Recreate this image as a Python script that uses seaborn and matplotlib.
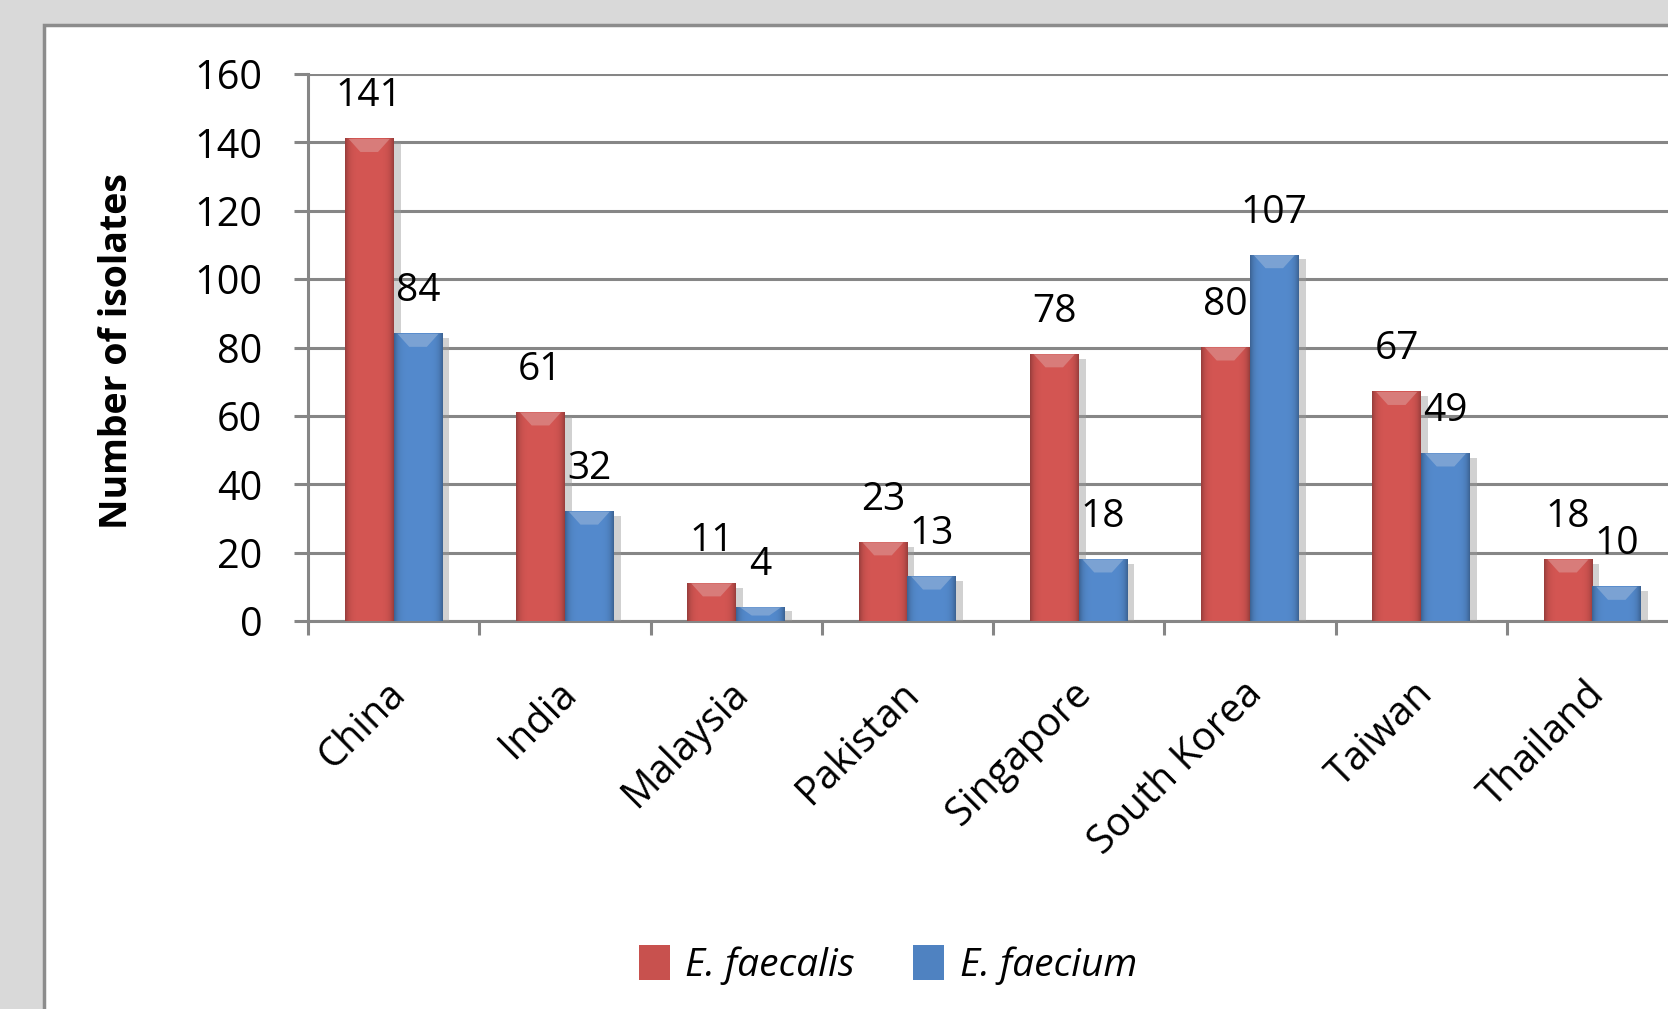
import numpy as np
import pandas as pd
import matplotlib
matplotlib.use("Agg")
import matplotlib.pyplot as plt
import matplotlib.patheffects as pe
import matplotlib.transforms as mtrans
from matplotlib.patches import Rectangle, Polygon
from matplotlib.colors import to_rgb
import seaborn as sns

# ---- data ----
countries = ["China", "India", "Malaysia", "Pakistan", "Singapore",
             "South Korea", "Taiwan", "Thailand"]
faecalis = [141, 61, 11, 23, 78, 80, 67, 18]
faecium = [84, 32, 4, 13, 18, 107, 49, 10]
series_names = ["E. faecalis", "E. faecium"]
y_ticks = [0, 20, 40, 60, 80, 100, 120, 140, 160]

df = pd.DataFrame({
    "country": countries * 2,
    "species": [series_names[0]] * len(countries) + [series_names[1]] * len(countries),
    "count": faecalis + faecium,
})

sns.set_theme(style="white")
plt.rcParams["font.family"] = ["Open Sans", "DejaVu Sans"]
plt.rcParams["text.color"] = "black"
plt.rcParams["xtick.color"] = "black"
plt.rcParams["ytick.color"] = "black"
plt.rcParams["axes.labelcolor"] = "black"

W, H = 1668, 1009
fig = plt.figure(figsize=(W / 100, H / 100), dpi=100)
fig.patch.set_facecolor("#d9d9d9")

# white chart panel with grey border (extends beyond right/bottom edges)
panel = Rectangle((44 / W, -0.05), 1.2, (H - 25) / H + 0.05, transform=fig.transFigure,
                  facecolor="white", edgecolor="#8c8c8c", linewidth=2.5, zorder=-10)
fig.patches.append(panel)

ax_left, ax_right = 308 / W, 1678 / W
ax_bottom, ax_top = (H - 621) / H, (H - 74) / H
ax = fig.add_axes([ax_left, ax_bottom, ax_right - ax_left, ax_top - ax_bottom])
ax.set_facecolor("none")

palette = {series_names[0]: "#C8514E", series_names[1]: "#4F82C1"}
sns.barplot(data=df, x="country", y="count", hue="species", order=countries,
            hue_order=series_names, palette=palette, width=0.57, ax=ax,
            saturation=1, edgecolor="none", legend=True, zorder=3)

ax.set_ylim(0, 160)
ax.set_xlim(-0.5, len(countries) - 0.5)

grid_c = "#868686"
# bevelled look: shadow + horizontal shading + lighter top cap, derived from each bar
cap_px = 13
units_per_px = 160 / (621 - 74)
prof = np.linspace(-1, 1, 64)
shade = 1.06 - 0.30 * np.abs(prof) ** 6
for cont in ax.containers:
    for p in cont.patches:
        p.set_path_effects([pe.SimplePatchShadow(offset=(5, -3), shadow_rgbFace="#9a9a9a",
                                                 alpha=0.45), pe.Normal()])
        x0, y0 = p.get_x(), p.get_y()
        w, h = p.get_width(), p.get_height()
        if h <= 0:
            continue
        base = np.array(to_rgb(p.get_facecolor()))
        img = np.clip(base[None, None, :] * shade[None, :, None], 0, 1)
        ax.imshow(img, extent=[x0, x0 + w, y0, y0 + h], aspect="auto",
                  interpolation="bilinear", zorder=3.2)
        ch = min(cap_px * units_per_px, h * 0.6)
        light = np.clip(base + (1 - base) * 0.35, 0, 1)
        cap = Polygon([[x0 + 0.08 * w, y0 + h], [x0 + 0.92 * w, y0 + h],
                       [x0 + 0.68 * w, y0 + h - ch], [x0 + 0.32 * w, y0 + h - ch]],
                      closed=True, facecolor=light, edgecolor="none", zorder=3.3, alpha=0.7)
        ax.add_patch(cap)

# value labels
for cont in ax.containers:
    ax.bar_label(cont, fmt="%d", padding=17, fontsize=28, color="black", zorder=5)

ax.set_ylim(0, 160)
ax.set_xlim(-0.5, len(countries) - 0.5)
ax.set_yticks(y_ticks)
ax.set_yticklabels([str(v) for v in y_ticks])
ax.yaxis.grid(True, color=grid_c, linewidth=2.2, zorder=0)
ax.set_axisbelow(True)

for s in ["top", "right"]:
    ax.spines[s].set_visible(False)
for s in ["left", "bottom"]:
    ax.spines[s].set_color(grid_c)
    ax.spines[s].set_linewidth(2.2)

ax.tick_params(axis="y", which="major", direction="out", length=10, width=2.2,
               color=grid_c, pad=23, labelsize=28.5, left=True, labelcolor="black")
ax.set_xticks(np.arange(len(countries)))
ax.set_xticklabels(countries)
ax.set_xticks(np.arange(-0.5, len(countries), 1), minor=True)
ax.tick_params(axis="x", which="major", length=0, pad=38, labelsize=28.5, bottom=True,
               labelcolor="black")
ax.tick_params(axis="x", which="minor", direction="out", length=10, width=2.2,
               color=grid_c, bottom=True)
shift = mtrans.ScaledTranslation(-8 / 100, 0, fig.dpi_scale_trans)
for lbl in ax.get_xticklabels():
    lbl.set_rotation(45)
    lbl.set_ha("right")
    lbl.set_va("top")
    lbl.set_rotation_mode("anchor")
    lbl.set_transform(lbl.get_transform() + shift)

ax.set_xlabel("")
ax.set_ylabel("Number of isolates", fontsize=27, fontweight="bold", color="black")
ax.yaxis.set_label_coords((136 - 308) / 1370, (621 - 351) / 547)

# legend at bottom centre
handles, labels = ax.get_legend_handles_labels()
ax.legend_.remove()
leg = fig.legend(handles, labels, loc="center", bbox_to_anchor=(888 / W, 1 - 965 / H),
                 ncol=2, frameon=False, prop={"size": 28, "style": "italic"},
                 handlelength=0.8, handleheight=1.0, handletextpad=0.4, columnspacing=1.5)
for t in leg.get_texts():
    t.set_color("black")

fig.savefig("out.png", dpi=100, facecolor=fig.get_facecolor())
